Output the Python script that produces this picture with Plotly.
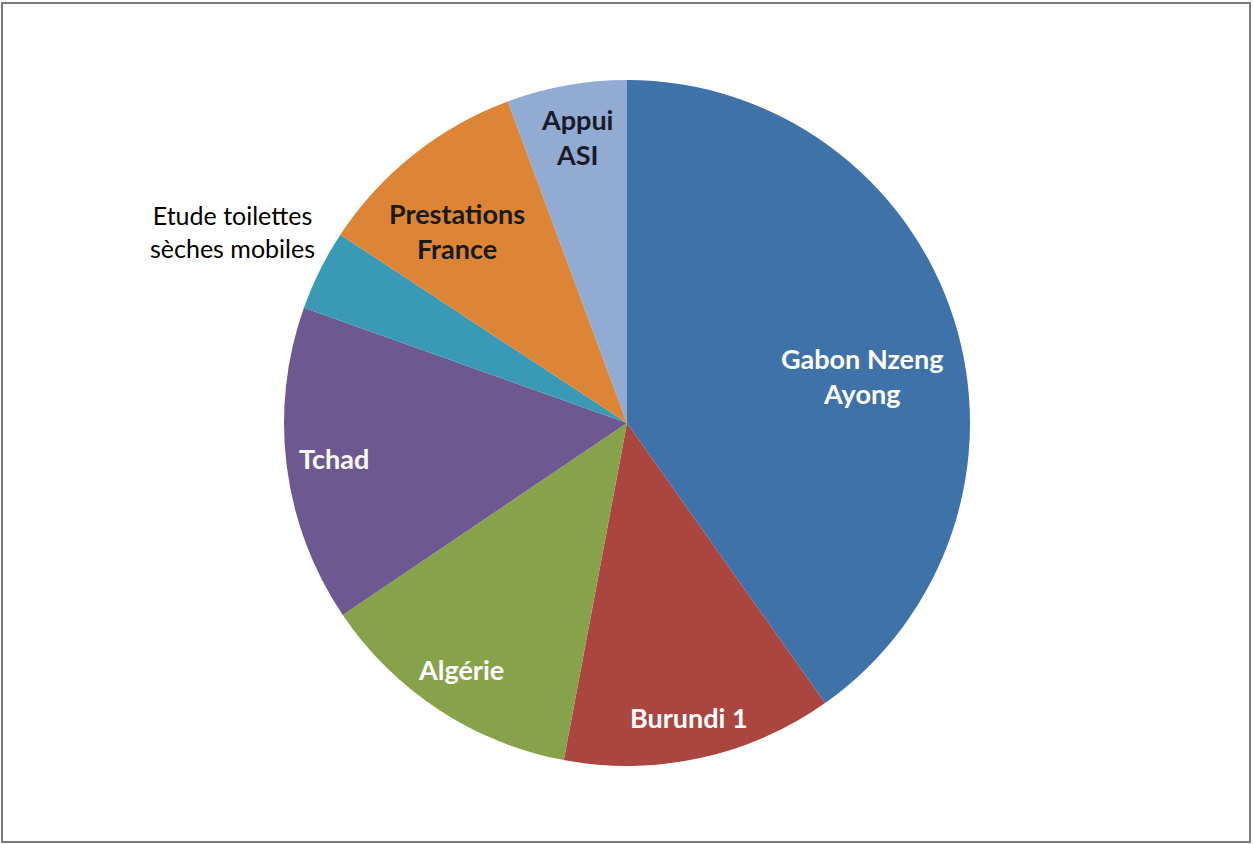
import plotly.graph_objects as go

W, H = 1253, 844

labels = ["Gabon Nzeng Ayong", "Burundi 1", "Algérie", "Tchad",
          "Etude toilettes sèches mobiles", "Prestations France", "Appui ASI"]
values = [40.2, 12.75, 12.6, 14.9, 3.8, 10.1, 5.65]
colors = ["#3F72A8", "#AA4540", "#87A24B", "#6E5892", "#3A9AB5", "#DC8537", "#91ABD3"]

# label display text, pixel centre, colour, bold
label_text = ["Gabon Nzeng<br>Ayong", "Burundi 1", "Algérie", "Tchad",
              "Etude toilettes<br>sèches mobiles", "Prestations<br>France", "Appui<br>ASI"]
label_px = [(862, 376), (689, 717), (461, 669), (334, 458), (232, 231), (457, 231), (577, 137)]
label_col = ["white", "white", "white", "white", "black", "#1a1a1a", "#1a1a2a"]
label_bold = [True, True, True, True, False, True, True]

cx, cy, r = 627, 423, 343

fig = go.Figure(go.Pie(
    labels=labels, values=values, sort=False, direction="clockwise", rotation=0,
    marker=dict(colors=colors, line=dict(width=0)),
    textinfo="none", hoverinfo="label+percent", showlegend=False,
    domain=dict(x=[(cx - r) / W, (cx + r) / W], y=[(H - cy - r) / H, (H - cy + r) / H]),
))

for t, (px, py), c, b in zip(label_text, label_px, label_col, label_bold):
    fig.add_annotation(
        x=px / W, y=1 - py / H, xref="paper", yref="paper", showarrow=False,
        text=f"<b>{t}</b>" if b else t,
        font=dict(family="Lato", size=27 if b else 25, color=c),
        align="center", xanchor="center", yanchor="middle",
    )

fig.add_shape(type="rect", xref="paper", yref="paper",
              x0=2 / W, x1=1 - 3 / W, y0=2 / H, y1=1 - 3 / H,
              line=dict(color="#7a7a7a", width=2))

fig.update_layout(width=W, height=H, margin=dict(l=0, r=0, t=0, b=0),
                  paper_bgcolor="white", plot_bgcolor="white")

fig.write_html("out.html", config={"displayModeBar": False},
               post_script="document.body.style.margin='0';document.body.style.overflow='hidden';")
